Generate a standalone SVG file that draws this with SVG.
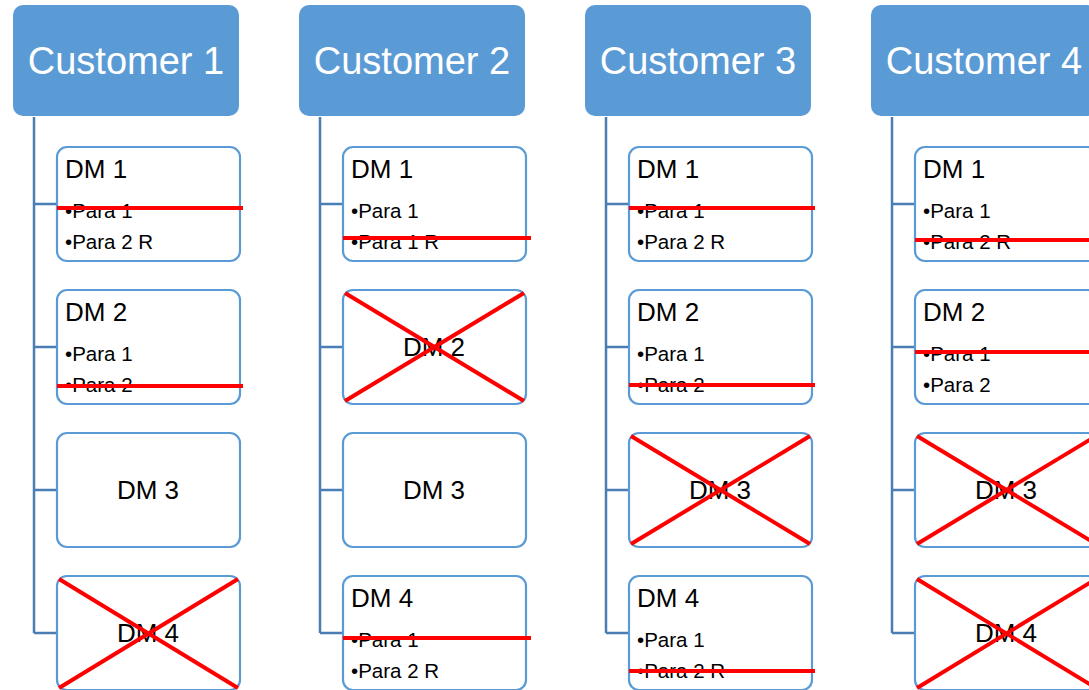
<svg xmlns="http://www.w3.org/2000/svg" width="1089" height="690" viewBox="0 0 1089 690">
<style>
.cust{fill:#5b9bd5;}
.ct{font-family:"Liberation Sans",Arial,sans-serif;font-size:38px;fill:#fff;text-anchor:middle;}
.box{fill:#fff;stroke:#5b9bd5;stroke-width:2.2;}
.dm{font-family:"Liberation Sans",Arial,sans-serif;font-size:26px;fill:#000;}
.dmc{font-family:"Liberation Sans",Arial,sans-serif;font-size:26px;fill:#000;text-anchor:middle;}
.p{font-family:"Liberation Sans",Arial,sans-serif;font-size:20.5px;fill:#000;}
.con{fill:none;stroke:#4a7db3;stroke-width:2.5;}
.st{stroke:#ff0000;stroke-width:4;}
.x{stroke:#ff0000;stroke-width:4;}
</style>
<g id="connectors">
<path class="con" d="M34 117V633M34 204H57M34 347H57M34 490H57M34 633H57"/>
<path class="con" d="M320 117V633M320 204H343M320 347H343M320 490H343M320 633H343"/>
<path class="con" d="M606 117V633M606 204H629M606 347H629M606 490H629M606 633H629"/>
<path class="con" d="M892 117V633M892 204H915M892 347H915M892 490H915M892 633H915"/>
</g>
<!-- Column 1 -->
<g id="customer1"><rect class="cust" x="13" y="5" width="226" height="111" rx="10"/><text class="ct" x="126" y="74">Customer 1</text></g>
<g id="c1dm1"><rect class="box" x="57" y="147" width="183" height="114" rx="10"/><text class="dm" x="65" y="178">DM 1</text><text class="p" x="65" y="218">•Para 1</text><text class="p" x="65" y="249">•Para 2 R</text><line class="st" x1="57" y1="208" x2="243" y2="208"/></g>
<g id="c1dm2"><rect class="box" x="57" y="290" width="183" height="114" rx="10"/><text class="dm" x="65" y="321">DM 2</text><text class="p" x="65" y="361">•Para 1</text><text class="p" x="65" y="392">•Para 2</text><line class="st" x1="57" y1="386" x2="243" y2="386"/></g>
<g id="c1dm3"><rect class="box" x="57" y="433" width="183" height="114" rx="10"/><text class="dmc" x="148" y="499">DM 3</text></g>
<g id="c1dm4"><rect class="box" x="57" y="576" width="183" height="114" rx="10"/><text class="dmc" x="148" y="642">DM 4</text><line class="x" x1="59" y1="579" x2="238" y2="688"/><line class="x" x1="59" y1="688" x2="238" y2="579"/></g>
<!-- Column 2 -->
<g id="customer2"><rect class="cust" x="299" y="5" width="226" height="111" rx="10"/><text class="ct" x="412" y="74">Customer 2</text></g>
<g id="c2dm1"><rect class="box" x="343" y="147" width="183" height="114" rx="10"/><text class="dm" x="351" y="178">DM 1</text><text class="p" x="351" y="218">•Para 1</text><text class="p" x="351" y="249">•Para 1 R</text><line class="st" x1="343" y1="238" x2="531" y2="238"/></g>
<g id="c2dm2"><rect class="box" x="343" y="290" width="183" height="114" rx="10"/><text class="dmc" x="434" y="356">DM 2</text><line class="x" x1="345" y1="293" x2="524" y2="401"/><line class="x" x1="345" y1="401" x2="524" y2="293"/></g>
<g id="c2dm3"><rect class="box" x="343" y="433" width="183" height="114" rx="10"/><text class="dmc" x="434" y="499">DM 3</text></g>
<g id="c2dm4"><rect class="box" x="343" y="576" width="183" height="114" rx="10"/><text class="dm" x="351" y="607">DM 4</text><text class="p" x="351" y="647">•Para 1</text><text class="p" x="351" y="678">•Para 2 R</text><line class="st" x1="343" y1="638" x2="531" y2="638"/></g>
<!-- Column 3 -->
<g id="customer3"><rect class="cust" x="585" y="5" width="226" height="111" rx="10"/><text class="ct" x="698" y="74">Customer 3</text></g>
<g id="c3dm1"><rect class="box" x="629" y="147" width="183" height="114" rx="10"/><text class="dm" x="637" y="178">DM 1</text><text class="p" x="637" y="218">•Para 1</text><text class="p" x="637" y="249">•Para 2 R</text><line class="st" x1="629" y1="208" x2="815" y2="208"/></g>
<g id="c3dm2"><rect class="box" x="629" y="290" width="183" height="114" rx="10"/><text class="dm" x="637" y="321">DM 2</text><text class="p" x="637" y="361">•Para 1</text><text class="p" x="637" y="392">•Para 2</text><line class="st" x1="629" y1="385" x2="815" y2="385"/></g>
<g id="c3dm3"><rect class="box" x="629" y="433" width="183" height="114" rx="10"/><text class="dmc" x="720" y="499">DM 3</text><line class="x" x1="631" y1="436" x2="810" y2="544"/><line class="x" x1="631" y1="544" x2="810" y2="436"/></g>
<g id="c3dm4"><rect class="box" x="629" y="576" width="183" height="114" rx="10"/><text class="dm" x="637" y="607">DM 4</text><text class="p" x="637" y="647">•Para 1</text><text class="p" x="637" y="678">•Para 2 R</text><line class="st" x1="629" y1="671" x2="815" y2="671"/></g>
<!-- Column 4 -->
<g id="customer4"><rect class="cust" x="871" y="5" width="226" height="111" rx="10"/><text class="ct" x="984" y="74">Customer 4</text></g>
<g id="c4dm1"><rect class="box" x="915" y="147" width="183" height="114" rx="10"/><text class="dm" x="923" y="178">DM 1</text><text class="p" x="923" y="218">•Para 1</text><text class="p" x="923" y="249">•Para 2 R</text><line class="st" x1="915" y1="240" x2="1101" y2="240"/></g>
<g id="c4dm2"><rect class="box" x="915" y="290" width="183" height="114" rx="10"/><text class="dm" x="923" y="321">DM 2</text><text class="p" x="923" y="361">•Para 1</text><text class="p" x="923" y="392">•Para 2</text><line class="st" x1="915" y1="352" x2="1101" y2="352"/></g>
<g id="c4dm3"><rect class="box" x="915" y="433" width="183" height="114" rx="10"/><text class="dmc" x="1006" y="499">DM 3</text><line class="x" x1="917" y1="436" x2="1096" y2="544"/><line class="x" x1="917" y1="544" x2="1096" y2="436"/></g>
<g id="c4dm4"><rect class="box" x="915" y="576" width="183" height="114" rx="10"/><text class="dmc" x="1006" y="642">DM 4</text><line class="x" x1="917" y1="579" x2="1096" y2="688"/><line class="x" x1="917" y1="688" x2="1096" y2="579"/></g>
</svg>
